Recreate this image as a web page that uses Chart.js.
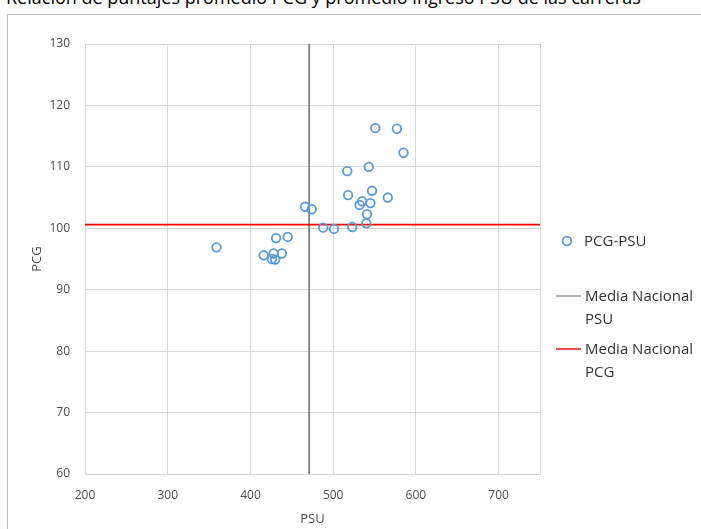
<!DOCTYPE html>
<html>
<head>
<meta charset="utf-8">
<script src="https://cdn.jsdelivr.net/npm/chart.js@4/dist/chart.umd.min.js"></script>
<style>
  html, body { margin: 0; padding: 0; background: #fff; overflow: hidden; }
  #wrap { position: relative; width: 701px; height: 529px; font-family: "Open Sans", sans-serif; }
  #title { position: absolute; left: 6px; top: -15px; font-size: 18px; white-space: nowrap; color: #000; }
  #frame { position: absolute; left: 7px; top: 14px; width: 800px; height: 600px; border: 1px solid #bfbfbf; }
  canvas { position: absolute; left: 0; top: 0; }
  .leg { position: absolute; font-size: 15px; color: #333; line-height: 23px; }
  .mark { position: absolute; }
</style>
</head>
<body>
<div id="wrap">
  <div id="title">Relación de puntajes promedio PCG y promedio ingreso PSU de las carreras</div>
  <div id="frame"></div>
  <canvas id="chart" width="701" height="529"></canvas>
  <div id="legend"></div>
</div>
<script>
'use strict';

// PSU promedio (x) y PCG promedio (y) de cada carrera
let psuValues = [551, 577, 585, 517, 543, 518, 547, 566, 535, 532, 545, 541, 540, 523,
  501, 488, 466, 474, 431, 445, 416, 428, 438, 426, 430, 359];
let pcgValues = [116.3, 116.2, 112.3, 109.3, 110.0, 105.4, 106.1, 105.0, 104.4, 103.8, 104.1, 102.3, 100.8, 100.2,
  99.9, 100.1, 103.5, 103.1, 98.4, 98.6, 95.6, 95.9, 95.9, 95.0, 94.9, 96.9];

let mediaPSU = 471;
let mediaPCG = 100.6;

let xRange = [200, 750];
let yRange = [60, 130];
let xTicks = [200, 300, 400, 500, 600, 700];

let seriesNames = ['PCG-PSU', 'Media Nacional PSU', 'Media Nacional PCG'];

let points = [];
for (let i = 0; i < psuValues.length; i++) {
  points.push({ x: psuValues[i], y: pcgValues[i] });
}

let tickFont = { family: 'Open Sans', size: 12 };

let ctx = document.getElementById('chart').getContext('2d');
let myChart = new Chart(ctx, {
  type: 'scatter',
  data: {
    datasets: [{
      label: seriesNames[0],
      data: points,
      borderColor: '#5b9bd5',
      backgroundColor: 'rgba(0,0,0,0)',
      borderWidth: 1.8,
      pointRadius: 4.3,
      order: 1
    }, {
      type: 'line',
      label: seriesNames[1],
      data: [{ x: mediaPSU, y: yRange[0] }, { x: mediaPSU, y: yRange[1] }],
      borderColor: '#7f7f7f',
      borderWidth: 1.8,
      pointRadius: 0,
      order: 3
    }, {
      type: 'line',
      label: seriesNames[2],
      data: [{ x: xRange[0], y: mediaPCG }, { x: xRange[1], y: mediaPCG }],
      borderColor: '#ff0000',
      borderWidth: 1.8,
      pointRadius: 0,
      order: 2
    }]
  },
  options: {
    responsive: false,
    animation: false,
    layout: { padding: { left: 0, top: 44, right: 161, bottom: 0 } },
    plugins: {
      legend: { display: false },
      tooltip: { enabled: false }
    },
    scales: {
      x: {
        type: 'linear',
        min: xRange[0],
        max: xRange[1],
        afterFit: function (scale) { scale.height = 55; },
        afterBuildTicks: function (scale) {
          scale.ticks = xTicks.concat([xRange[1]]).map(v => ({ value: v }));
        },
        grid: { color: '#d9d9d9', drawTicks: false },
        border: { color: '#d9d9d9' },
        ticks: {
          font: tickFont,
          color: '#4d4d4d',
          padding: 14,
          maxRotation: 0,
          callback: function (v) { return xTicks.includes(v) ? String(v) : ''; }
        },
        title: { display: true, text: 'PSU', font: { family: 'Open Sans', size: 13 }, color: '#4d4d4d', padding: { top: 0, bottom: 2 } }
      },
      y: {
        type: 'linear',
        min: yRange[0],
        max: yRange[1],
        afterFit: function (scale) { scale.width = 85; },
        grid: { color: '#d9d9d9', drawTicks: false },
        border: { color: '#d9d9d9' },
        ticks: { font: tickFont, color: '#4d4d4d', padding: 15, stepSize: 10 },
        title: { display: true, text: 'PCG', font: { family: 'Open Sans', size: 13 }, color: '#4d4d4d', padding: { top: 29, bottom: 0 } }
      }
    }
  }
});

// leyenda a la derecha, como en el original
let legend = document.getElementById('legend');
legend.innerHTML =
  '<svg class="mark" style="left:561px;top:235px" width="12" height="12"><circle cx="6" cy="6" r="4.3" fill="none" stroke="#5b9bd5" stroke-width="1.8"/></svg>' +
  '<div class="leg" style="left:584px;top:229px">' + seriesNames[0] + '</div>' +
  '<svg class="mark" style="left:556px;top:292px" width="26" height="8"><line x1="0" y1="4" x2="25" y2="4" stroke="#7f7f7f" stroke-width="1.2"/></svg>' +
  '<div class="leg" style="left:585px;top:284px">Media Nacional<br>PSU</div>' +
  '<svg class="mark" style="left:556px;top:345px" width="26" height="8"><line x1="0" y1="4" x2="25" y2="4" stroke="#ff0000" stroke-width="1.4"/></svg>' +
  '<div class="leg" style="left:585px;top:337px">Media Nacional<br>PCG</div>';
</script>
</body>
</html>
